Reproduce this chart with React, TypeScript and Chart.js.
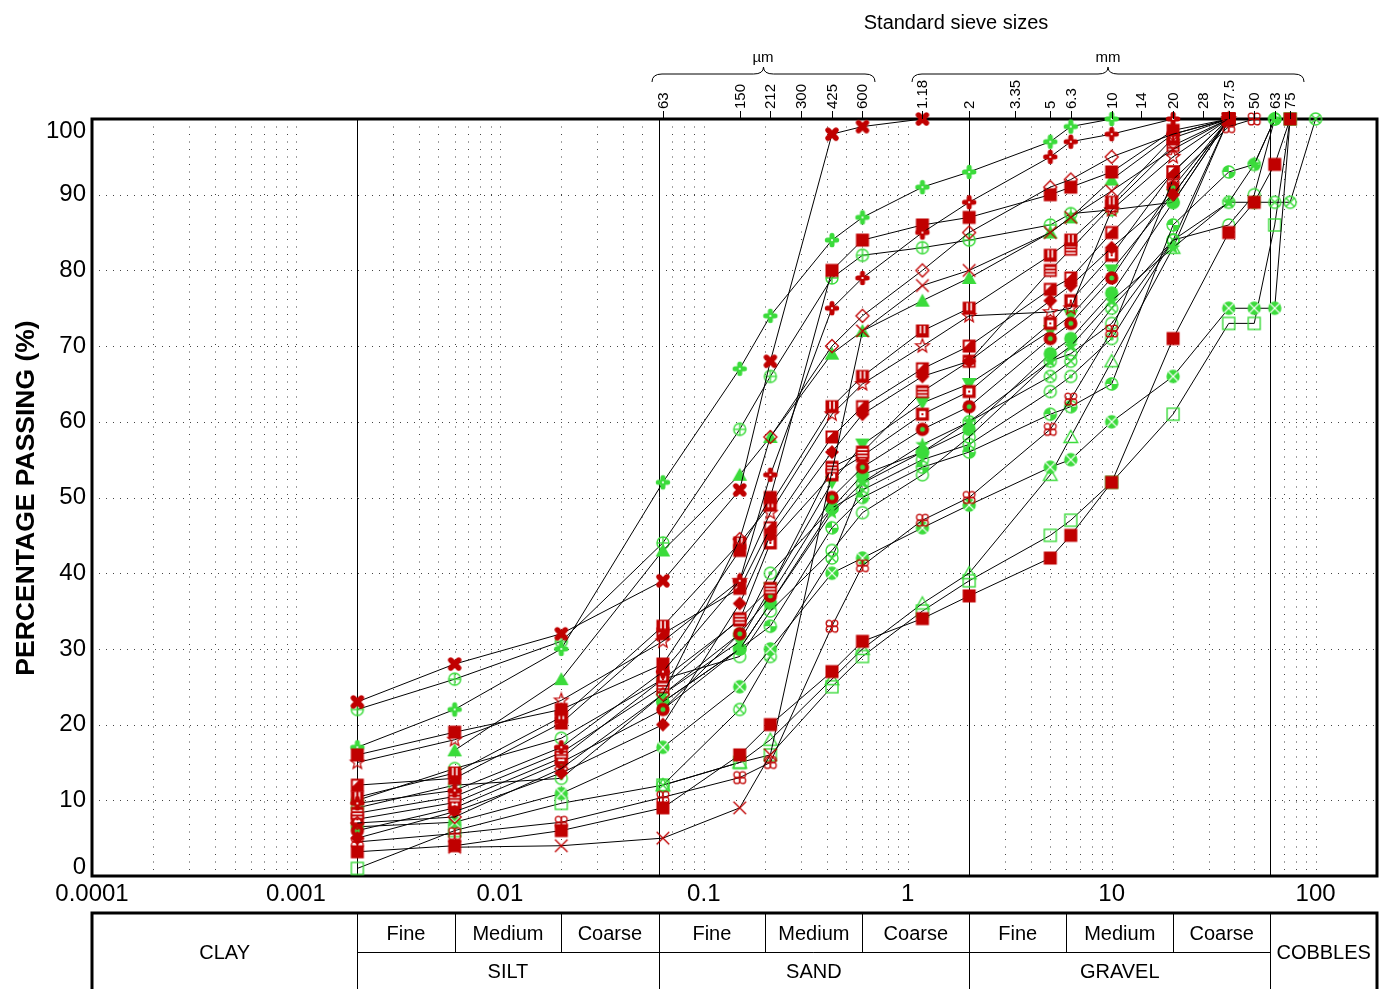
import React, { useEffect, useRef } from "react";
import { Chart, registerables } from "chart.js";
Chart.register(...registerables);

const _ = null;
// sieve / particle sizes (mm) for each column of the value arrays
const sizes = [0.002, 0.006, 0.02, 0.063, 0.15, 0.212, 0.425, 0.6, 1.18, 2, 5, 6.3, 10, 20, 37.5, 50, 63, 75, 100];

// red samples
const rCross = [23, 28, 32, 39, 51, 68, 98, 99, 100];
const rSquareLow = [3.2, 4, 6, 9, 16, 20, 27, 31, 34, 37, 42, 45, 52, 71, 85, 89, 94, 100];
const rX = [_, 3.8, 4, 5, 9, 16, _, 72, 78, 80, 85, 87, 90.5, 96, 100];
const rFlower = [4.5, 5.6, 7.1, 10.4, 13, 15, 33, 41, 47, 50, 59, 63, 72, 92, 99, 100];
const rPlus = [9.6, 11.3, 17, 27, 39, 53, 75, 79, 85, 89, 95, 97, 98, 100];
const rDiamondOpen = [7, 7.8, 14.2, 24, 44.5, 58, 70, 74, 80, 85, 91, 92, 95, 98, 100];
const rSquareHigh = [16, 19, 22, 28, 43, 50, 80, 84, 86, 87, 90, 91, 93, 98.5, 100];
const rBarsV = [10.4, 13.6, 21, 33, 44, 49, 62, 66, 72, 75, 82, 84, 89, 97.5, 100];
const rStar = [15, 18, 23.2, 31, 39, 48, 61, 65, 70, 74, 74.5, 75, 88, 95, 100];
const rSquareNotch = [12, 12.9, 20.2, 32, 38, 46, 58, 62, 67, 70, 77.5, 79, 85, 93, 100];
const rDiamond = [5, 8.5, 13.6, 20, 36, 45, 56, 61, 66, 68, 76, 78, 83, 90, 100];
const rBarsH = [8.3, 10.5, 16.3, 25, 34, 38, 54, 56, 64, 68, 80, 82.8, 88.5, 96.5, 100];
const rSquareDot = [7.5, 9.7, 15.6, 26, 33.8, 44, 53, 55.5, 61, 64, 73, 76, 82, 93, 100];
const rDonut = [6, 9, 15, 22, 32, 37, 50, 54, 59, 62, 71, 73, 79, 91, 100];

// green samples
const gPlus = [17, 22, 30, 52, 67, 74, 84, 87, 91, 93, 97, 99, 100];
const gTriangle = [_, 16.6, 26, 43, 53, 58, 69, 72, 76, 79, 85, 87, 92, 98, 100];
const gCirclePlus = [22, 26, 31, 44, 59, 66, 79, 82, 83, 84, 86, 87.5, 88, 89, 100];
const gTriangleDown = [_, _, _, 24, 31, 38, 52, 57, 62.5, 65, 72, 74, 80, 90, 100];
const gStar = [_, _, _, 22, 30, 36, 48, 52, 57, 60, 68, 70, 76, 83, 89, 94, 100];
const gCircleHalf = [_, _, _, 23, 30, 33, 46, 50, 54, 56, 61, 62, 65, 86, 93, 94, 100];
const gCircle = [10, 14.2, 18.2, 26, 29, 35, 43, 48, 53, 58, 68, 69, 73, 84, 86, 90, 100];
const gCircleDot = [9, 12, 12.9, 24, 32, 40, 48.6, 51, 55, 57, 64, 66, 71, 84, 100];
const gDisc = [_, _, _, 23, 30, 36, 48.6, 53, 56, 59, 69, 71, 77, 89, 100];
const gCrossDisc = [6.5, 7.1, 10.9, 17, 25, 30, 40, 42, 46, 49, 54, 55, 60, 66, 75, 75, 75, 100];
const gCrossCircle = [_, _, _, 12, 22, 29, 42, 51.9, 56, 60, 66, 68, 75, 84, 89, 89, 89, 89, 100];
const gTriangleOpen = [_, _, _, 12, 15, 18, 26, 30, 36, 40, 53, 58, 68, 83, 100];
const gSquareOpen = [1, 6, 9.6, 12, 15, 16, 25, 29, 35, 39, 45, 47, 52, 61, 73, 73, 86, 100];

// axis / annotation labels
const xTickValues = [0.0001, 0.001, 0.01, 0.1, 1, 10, 100];
const xTickLabels = ["0.0001", "0.001", "0.01", "0.1", "1", "10", "100"];
const yTickValues = [0, 10, 20, 30, 40, 50, 60, 70, 80, 90, 100];
const sieveValues = [0.063, 0.15, 0.212, 0.3, 0.425, 0.6, 1.18, 2, 3.35, 5, 6.3, 10, 14, 20, 28, 37.5, 50, 63, 75];
const sieveLabels = ["63", "150", "212", "300", "425", "600", "1.18", "2", "3.35", "5", "6.3", "10", "14", "20", "28", "37.5", "50", "63", "75"];
const boundaries = [0.002, 0.06, 2, 60];
const subBoundaries = [0.006, 0.02, 0.2, 0.6, 6, 20];
const subLabels = ["Fine", "Medium", "Coarse"];
const subRanges = [[0.002, 0.006], [0.006, 0.02], [0.02, 0.06], [0.06, 0.2], [0.2, 0.6], [0.6, 2], [2, 6], [6, 20], [20, 60]];
const mainLabels = ["SILT", "SAND", "GRAVEL"];
const mainRanges = [[0.002, 0.06], [0.06, 2], [2, 60]];

const RED = "#C00000";
const GREEN = "#3BDB3B";
const FONT = '"Liberation Sans", Arial, Helvetica, sans-serif';

const seriesList: { values: (number | null)[]; color: string; marker: string }[] = [
  { values: rCross, color: RED, marker: "crossBold" },
  { values: rSquareLow, color: RED, marker: "square" },
  { values: rX, color: RED, marker: "x" },
  { values: rFlower, color: RED, marker: "flower" },
  { values: rPlus, color: RED, marker: "plusBold" },
  { values: rDiamondOpen, color: RED, marker: "diamondOpen" },
  { values: rSquareHigh, color: RED, marker: "square" },
  { values: rBarsV, color: RED, marker: "barsV" },
  { values: rStar, color: RED, marker: "starOpen" },
  { values: rSquareNotch, color: RED, marker: "squareNotch" },
  { values: rDiamond, color: RED, marker: "diamond" },
  { values: rBarsH, color: RED, marker: "barsH" },
  { values: rSquareDot, color: RED, marker: "squareDot" },
  { values: rDonut, color: RED, marker: "donut" },
  { values: gPlus, color: GREEN, marker: "plusBold" },
  { values: gTriangle, color: GREEN, marker: "triangle" },
  { values: gCirclePlus, color: GREEN, marker: "circlePlus" },
  { values: gTriangleDown, color: GREEN, marker: "triangleDown" },
  { values: gStar, color: GREEN, marker: "star" },
  { values: gCircleHalf, color: GREEN, marker: "circleHalf" },
  { values: gCircle, color: GREEN, marker: "circle" },
  { values: gCircleDot, color: GREEN, marker: "circleDot" },
  { values: gDisc, color: GREEN, marker: "disc" },
  { values: gCrossDisc, color: GREEN, marker: "crossDisc" },
  { values: gCrossCircle, color: GREEN, marker: "crossCircle" },
  { values: gTriangleOpen, color: GREEN, marker: "triangleOpen" },
  { values: gSquareOpen, color: GREEN, marker: "squareOpen" },
];

function makeMarker(kind: string, col: string): HTMLCanvasElement {
  const S = 18;
  const cv = document.createElement("canvas");
  cv.width = S;
  cv.height = S;
  const c = cv.getContext("2d")!;
  c.translate(S / 2, S / 2);
  c.fillStyle = col;
  c.strokeStyle = col;
  c.lineWidth = 1.4;
  const r = 6.5;
  const circ = (rr: number, x = 0, y = 0) => {
    c.beginPath();
    c.arc(x, y, rr, 0, Math.PI * 2);
  };
  const starPath = (ro: number, ri: number) => {
    c.beginPath();
    for (let i = 0; i < 10; i++) {
      const a = -Math.PI / 2 + (i * Math.PI) / 5;
      const rr = i % 2 === 0 ? ro : ri;
      const x = Math.cos(a) * rr, y = Math.sin(a) * rr;
      if (i === 0) c.moveTo(x, y); else c.lineTo(x, y);
    }
    c.closePath();
  };
  const line = (x1: number, y1: number, x2: number, y2: number) => {
    c.beginPath(); c.moveTo(x1, y1); c.lineTo(x2, y2); c.stroke();
  };
  switch (kind) {
    case "square":
      c.fillRect(-r, -r, 2 * r, 2 * r);
      break;
    case "squareDot":
      c.fillRect(-r, -r, 2 * r, 2 * r);
      c.fillStyle = "#fff"; c.fillRect(-3.2, -3.2, 6.4, 6.4);
      c.fillStyle = col; c.fillRect(-1, -1, 2, 2);
      break;
    case "squareNotch":
      c.fillRect(-r, -r, 2 * r, 2 * r);
      c.fillStyle = "#fff";
      c.beginPath(); c.moveTo(-4.5, -4.5); c.lineTo(1, -4.5); c.lineTo(-4.5, 1); c.closePath(); c.fill();
      break;
    case "barsV":
      c.fillRect(-r, -r, 2 * r, 2 * r);
      c.fillStyle = "#fff"; c.fillRect(-2.7, -5.2, 1.5, 7.5); c.fillRect(1.3, -5.2, 1.5, 7.5);
      break;
    case "barsH":
      c.fillRect(-r, -r, 2 * r, 2 * r);
      c.fillStyle = "#fff"; c.fillRect(-4.8, -3.3, 9.6, 1.4); c.fillRect(-4.8, 0, 9.6, 1.4); c.fillRect(-4.8, 3.3, 9.6, 1.4);
      break;
    case "donut":
      circ(6.7); c.fill();
      c.fillStyle = GREEN; circ(2.5); c.fill();
      break;
    case "diamond":
      c.beginPath(); c.moveTo(0, -7); c.lineTo(7, 0); c.lineTo(0, 7); c.lineTo(-7, 0); c.closePath(); c.fill();
      break;
    case "diamondOpen":
      c.lineWidth = 1.3;
      c.beginPath(); c.moveTo(0, -6.5); c.lineTo(6.5, 0); c.lineTo(0, 6.5); c.lineTo(-6.5, 0); c.closePath(); c.stroke();
      break;
    case "crossBold":
      c.lineWidth = 5.4; c.lineCap = "round";
      line(-4, -4, 4, 4); line(-4, 4, 4, -4);
      break;
    case "plusBold":
      c.lineWidth = 5; c.lineCap = "round";
      line(-4.7, 0, 4.7, 0); line(0, -4.7, 0, 4.7);
      c.fillStyle = "#fff"; circ(1.1); c.fill();
      break;
    case "x":
      c.lineWidth = 1.3;
      line(-6.3, -6.3, 6.3, 6.3); line(-6.3, 6.3, 6.3, -6.3);
      break;
    case "starOpen":
      c.lineWidth = 1.2; starPath(7.2, 3); c.stroke();
      break;
    case "star":
      starPath(7.5, 3.2); c.fill();
      break;
    case "flower":
      c.lineWidth = 1.2;
      for (const [dx, dy] of [[-2.9, -2.9], [2.9, -2.9], [-2.9, 2.9], [2.9, 2.9]]) { circ(3, dx, dy); c.stroke(); }
      break;
    case "circlePlus":
      circ(6); c.stroke();
      line(-6, 0, 6, 0); line(0, -6, 0, 6);
      break;
    case "crossCircle":
      circ(6); c.stroke();
      line(-4.3, -4.3, 4.3, 4.3); line(-4.3, 4.3, 4.3, -4.3);
      break;
    case "crossDisc":
      circ(6.7); c.fill();
      c.strokeStyle = "#fff"; c.lineWidth = 1.3;
      line(-4.6, -4.6, 4.6, 4.6); line(-4.6, 4.6, 4.6, -4.6);
      break;
    case "circle":
      circ(6); c.stroke();
      break;
    case "circleDot":
      circ(6); c.stroke(); circ(2); c.fill();
      break;
    case "circleHalf":
      circ(6); c.stroke();
      c.beginPath(); c.moveTo(0, 0); c.arc(0, 0, 6.5, -Math.PI, -Math.PI / 2); c.closePath(); c.fill();
      c.beginPath(); c.moveTo(0, 0); c.arc(0, 0, 6.5, 0, Math.PI / 2); c.closePath(); c.fill();
      break;
    case "disc":
      circ(6.7); c.fill();
      break;
    case "triangle":
      c.beginPath(); c.moveTo(0, -7); c.lineTo(7.3, 6); c.lineTo(-7.3, 6); c.closePath(); c.fill();
      break;
    case "triangleDown":
      c.beginPath(); c.moveTo(0, 7); c.lineTo(7.3, -6); c.lineTo(-7.3, -6); c.closePath(); c.fill();
      break;
    case "triangleOpen":
      c.beginPath(); c.moveTo(0, -6.5); c.lineTo(6.8, 5.5); c.lineTo(-6.8, 5.5); c.closePath(); c.stroke();
      break;
    case "squareOpen":
      c.strokeRect(-6, -6, 12, 12);
      break;
  }
  return cv;
}

const decorPlugin = {
  id: "psdDecor",
  beforeDatasetsDraw(chart: any) {
    const ctx: CanvasRenderingContext2D = chart.ctx;
    const { left, right, top, bottom } = chart.chartArea;
    const xs = chart.scales.x, ys = chart.scales.y;
    ctx.save();
    ctx.strokeStyle = "#444";
    ctx.lineWidth = 1;
    ctx.setLineDash([1, 6.5]);
    for (let e = -4; e <= 2; e++) {
      for (let m = 1; m <= 9; m++) {
        const v = m * Math.pow(10, e);
        if (v > 200.001) continue;
        if (e === -4 && m === 1) continue;
        if (boundaries.some((b) => Math.abs(b - v) / b < 1e-6)) continue;
        const x = Math.round(xs.getPixelForValue(v)) + 0.5;
        ctx.beginPath(); ctx.moveTo(x, top); ctx.lineTo(x, bottom); ctx.stroke();
      }
    }
    ctx.setLineDash([1, 6]);
    for (let g = 10; g < 100; g += 10) {
      const y = Math.round(ys.getPixelForValue(g)) + 0.5;
      ctx.beginPath(); ctx.moveTo(left, y); ctx.lineTo(right, y); ctx.stroke();
    }
    ctx.setLineDash([]);
    ctx.strokeStyle = "#000";
    for (const b of boundaries) {
      const x = Math.round(xs.getPixelForValue(b)) + 0.5;
      ctx.beginPath(); ctx.moveTo(x, top); ctx.lineTo(x, bottom); ctx.stroke();
    }
    ctx.lineWidth = 3;
    ctx.strokeRect(left, top, right - left, bottom - top);
    ctx.restore();
  },
  afterDraw(chart: any) {
    const ctx: CanvasRenderingContext2D = chart.ctx;
    const { left, right, top, bottom } = chart.chartArea;
    const xs = chart.scales.x, ys = chart.scales.y;
    const X = (v: number) => xs.getPixelForValue(v);
    ctx.save();
    ctx.fillStyle = "#000";
    ctx.strokeStyle = "#000";

    // y tick labels
    ctx.font = `24px ${FONT}`;
    ctx.textAlign = "right";
    ctx.textBaseline = "middle";
    for (const v of yTickValues) {
      let y = ys.getPixelForValue(v);
      if (v === 100) y += 12;
      if (v === 0) y -= 9;
      ctx.fillText(String(v), left - 6, y);
    }
    // x tick labels
    ctx.textAlign = "center";
    xTickValues.forEach((v, i) => ctx.fillText(xTickLabels[i], X(v), bottom + 18));

    // y title
    ctx.save();
    ctx.translate(27, 498);
    ctx.rotate(-Math.PI / 2);
    ctx.font = `bold 25px ${FONT}`;
    const tw = ctx.measureText("PERCENTAGE PASSING (%)").width;
    const fs = 25 * (356 / tw);
    ctx.font = `bold ${fs.toFixed(1)}px ${FONT}`;
    ctx.textAlign = "center";
    ctx.textBaseline = "middle";
    ctx.fillText("PERCENTAGE PASSING (%)", 0, 0);
    ctx.restore();

    // top sieve ticks and labels
    ctx.lineWidth = 1;
    ctx.font = `15px ${FONT}`;
    sieveValues.forEach((v, i) => {
      const x = Math.round(X(v)) + 0.5;
      ctx.beginPath(); ctx.moveTo(x, top - 8); ctx.lineTo(x, top); ctx.stroke();
      ctx.save();
      ctx.translate(x, top - 10);
      ctx.rotate(-Math.PI / 2);
      ctx.textAlign = "left";
      ctx.textBaseline = "middle";
      ctx.fillText(sieveLabels[i], 0, 0);
      ctx.restore();
    });

    // braces
    const brace = (x1: number, x2: number) => {
      const xm = (x1 + x2) / 2;
      const yb = 82, yh = 74, yt = 67;
      ctx.beginPath();
      ctx.moveTo(x1, yb);
      ctx.quadraticCurveTo(x1, yh, x1 + 10, yh);
      ctx.lineTo(xm - 10, yh);
      ctx.quadraticCurveTo(xm, yh, xm, yt);
      ctx.quadraticCurveTo(xm, yh, xm + 10, yh);
      ctx.lineTo(x2 - 10, yh);
      ctx.quadraticCurveTo(x2, yh, x2, yb);
      ctx.stroke();
    };
    ctx.lineWidth = 1;
    brace(652, 875);
    brace(912, 1304);
    ctx.font = `15px ${FONT}`;
    ctx.textAlign = "center";
    ctx.textBaseline = "middle";
    ctx.fillText("\u00B5m", 763, 58);
    ctx.fillText("mm", 1108, 58);
    ctx.font = `20px ${FONT}`;
    ctx.fillText("Standard sieve sizes", 956, 23);

    // classification table
    const tTop = 913, tMid = 952, tBot = 989;
    ctx.lineWidth = 3;
    ctx.beginPath();
    ctx.moveTo(left, tBot + 2); ctx.lineTo(left, tTop); ctx.lineTo(right, tTop); ctx.lineTo(right, tBot + 2);
    ctx.stroke();
    ctx.lineWidth = 1;
    for (const b of boundaries) {
      const x = Math.round(X(b)) + 0.5;
      ctx.beginPath(); ctx.moveTo(x, tTop); ctx.lineTo(x, tBot); ctx.stroke();
    }
    for (const b of subBoundaries) {
      const x = Math.round(X(b)) + 0.5;
      ctx.beginPath(); ctx.moveTo(x, tTop); ctx.lineTo(x, tMid); ctx.stroke();
    }
    ctx.beginPath(); ctx.moveTo(X(0.002), tMid + 0.5); ctx.lineTo(X(60), tMid + 0.5); ctx.stroke();
    ctx.font = `20px ${FONT}`;
    ctx.textAlign = "center";
    ctx.textBaseline = "middle";
    ctx.fillText("CLAY", (left + X(0.002)) / 2, 953);
    ctx.fillText("COBBLES", (X(60) + right) / 2, 953);
    subRanges.forEach((rg, i) => ctx.fillText(subLabels[i % 3], (X(rg[0]) + X(rg[1])) / 2, 934));
    mainRanges.forEach((rg, i) => ctx.fillText(mainLabels[i], (X(rg[0]) + X(rg[1])) / 2, 972));
    ctx.restore();
  },
};

export default function App() {
  const ref = useRef<HTMLCanvasElement | null>(null);
  useEffect(() => {
    if (!ref.current) return;
    const datasets = seriesList.map((s) => {
      const data = sizes
        .map((x, i) => (s.values[i] === null || s.values[i] === undefined ? null : { x, y: s.values[i] as number }))
        .filter((p) => p !== null) as { x: number; y: number }[];
      return {
        data,
        showLine: true,
        borderColor: "#000",
        borderWidth: 1,
        backgroundColor: s.color,
        pointStyle: makeMarker(s.marker, s.color) as any,
        pointRadius: 6,
        pointHoverRadius: 6,
        pointBorderWidth: 0,
        tension: 0,
        fill: false,
        clip: false as any,
      };
    });
    const chart = new Chart(ref.current, {
      type: "scatter",
      data: { datasets: datasets as any },
      options: {
        animation: false,
        responsive: false,
        maintainAspectRatio: false,
        devicePixelRatio: 1,
        events: [],
        layout: { padding: { left: 92, right: 5, top: 119, bottom: 113 } },
        scales: {
          x: { type: "logarithmic", min: 0.0001, max: 200, display: false },
          y: { type: "linear", min: 0, max: 100, display: false },
        },
        plugins: { legend: { display: false }, tooltip: { enabled: false } },
      },
      plugins: [decorPlugin as any],
    });
    return () => chart.destroy();
  }, []);
  return (
    <div style={{ position: "absolute", left: 0, top: 0, width: 1383, height: 989, background: "#fff" }}>
      <canvas ref={ref} width={1383} height={989} style={{ display: "block", width: 1383, height: 989 }} />
    </div>
  );
}
